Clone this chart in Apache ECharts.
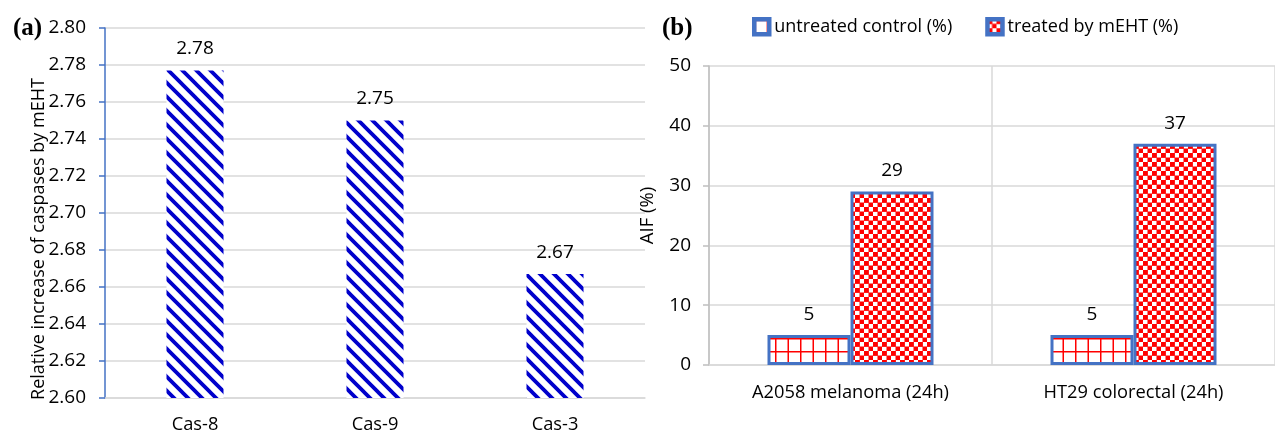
<!DOCTYPE html>
<html>
<head>
<meta charset="utf-8">
<script src="https://cdn.jsdelivr.net/npm/echarts@6/dist/echarts.min.js"></script>
<style>html,body{margin:0;padding:0;background:#fff;}#c{width:1275px;height:434px;}</style>
</head>
<body>
<div id="c"></div>
<script>
// ---- data ----
const casCategories = ['Cas-8', 'Cas-9', 'Cas-3'];
const casValues = [2.777, 2.75, 2.667];
const casTicks = { min: 2.6, max: 2.8, interval: 0.02 };
const casAxisName = 'Relative increase of caspases by mEHT';

const aifCategories = ['A2058 melanoma (24h)', 'HT29 colorectal (24h)'];
const untreatedValues = [5, 5];
const treatedValues = [29, 37];
const aifTicks = { min: 0, max: 50, interval: 10 };
const seriesNames = ['untreated control (%)', 'treated by mEHT (%)'];

// ---- patterns ----
function stripePattern() {
  const s = 14, c = document.createElement('canvas');
  c.width = s; c.height = s;
  const g = c.getContext('2d');
  g.fillStyle = '#fff'; g.fillRect(0, 0, s, s);
  g.strokeStyle = '#0000CC'; g.lineWidth = 3.8;
  g.beginPath();
  for (const k of [-1, 0, 1]) {
    g.moveTo(-4 + k * s, -4); g.lineTo(s + 4 + k * s, s + 4);
  }
  g.stroke();
  return c;
}
function gridPattern() {
  const c = document.createElement('canvas');
  c.width = 25; c.height = 26;
  const g = c.getContext('2d');
  g.fillStyle = '#fff'; g.fillRect(0, 0, 25, 26);
  g.fillStyle = '#FF0000';
  g.fillRect(0, 0, 25, 1.5); g.fillRect(0, 13, 25, 1.5);
  g.fillRect(0, 0, 1.5, 26); g.fillRect(12.5, 0, 1.5, 26);
  return c;
}
function checkerPattern() {
  const s = 4.5, c = document.createElement('canvas');
  c.width = 2 * s; c.height = 2 * s;
  const g = c.getContext('2d');
  g.fillStyle = '#fff'; g.fillRect(0, 0, 2 * s, 2 * s);
  g.fillStyle = '#FF0000';
  g.fillRect(0, 0, s + 0.4, s + 0.4); g.fillRect(s, s, s + 0.4, s + 0.4);
  return c;
}

const FONT = 'Open Sans';
const chart = echarts.init(document.getElementById('c'), null, { renderer: 'canvas' });
chart.setOption({
  animation: false,
  backgroundColor: '#fff',
  textStyle: { fontFamily: FONT },
  title: [
    { text: '(a)', left: 8, top: 11, textStyle: { fontFamily: 'Liberation Serif', fontWeight: 'bold', fontSize: 25, color: '#000' } },
    { text: '(b)', left: 657, top: 11, textStyle: { fontFamily: 'Liberation Serif', fontWeight: 'bold', fontSize: 25, color: '#000' } }
  ],
  graphic: [
    {
      type: 'text', x: 39, y: 239, rotation: Math.PI / 2,
      style: { text: casAxisName, fontSize: 18, fontFamily: FONT, fill: '#000', align: 'center', verticalAlign: 'middle' }
    }
  ],
  legend: {
    data: seriesNames,
    left: 747, top: 12,
    icon: 'rect', itemWidth: 15, itemHeight: 15, itemGap: 33,
    itemStyle: { borderWidth: 4.5 },
    textStyle: { fontFamily: FONT, fontSize: 18, color: '#000' }
  },
  grid: [
    { left: 105, top: 28, width: 540, height: 370 },
    { left: 709, top: 66, width: 576, height: 299 }
  ],
  xAxis: [
    {
      gridIndex: 0, type: 'category', data: casCategories,
      axisLine: { lineStyle: { color: '#D9D9D9', width: 1.5 } },
      axisTick: { show: false },
      axisLabel: { fontSize: 18.3, color: '#000', margin: 18, fontFamily: FONT }
    },
    {
      gridIndex: 1, type: 'category', data: aifCategories,
      axisLine: { lineStyle: { color: '#D9D9D9', width: 1.5 } },
      axisTick: { show: false },
      splitLine: { show: true, lineStyle: { color: '#D9D9D9', width: 1.5 } },
      axisLabel: { fontSize: 18.3, color: '#000', margin: 19, fontFamily: FONT }
    }
  ],
  yAxis: [
    {
      gridIndex: 0, type: 'value', min: casTicks.min, max: casTicks.max, interval: casTicks.interval,
      axisLine: { show: true, lineStyle: { color: '#4472C4', width: 1.5 } },
      axisTick: { show: true, length: 6, lineStyle: { color: '#4472C4', width: 1.5 } },
      splitLine: { lineStyle: { color: '#D9D9D9', width: 1.5 } },
      axisLabel: { fontSize: 19, color: '#000', margin: 19, fontFamily: FONT, formatter: v => v.toFixed(2) }
    },
    {
      gridIndex: 1, type: 'value', min: aifTicks.min, max: aifTicks.max, interval: aifTicks.interval,
      name: 'AIF (%)', nameLocation: 'middle', nameGap: 52,
      nameTextStyle: { fontSize: 18.5, color: '#000', fontFamily: FONT },
      axisLine: { show: true, lineStyle: { color: '#BFBFBF', width: 1.5 } },
      axisTick: { show: true, length: 6, lineStyle: { color: '#BFBFBF', width: 1.5 } },
      splitLine: { lineStyle: { color: '#D9D9D9', width: 1.5 } },
      axisLabel: { fontSize: 19, color: '#000', margin: 18, fontFamily: FONT }
    }
  ],
  series: [
    {
      type: 'bar', xAxisIndex: 0, yAxisIndex: 0, data: casValues, barWidth: 57,
      itemStyle: { color: { image: stripePattern(), repeat: 'repeat' } },
      label: { show: true, position: 'top', distance: 12, fontSize: 19, color: '#000', fontFamily: FONT, formatter: p => p.value.toFixed(2) }
    },
    {
      name: seriesNames[0], type: 'bar', xAxisIndex: 1, yAxisIndex: 1, data: untreatedValues,
      barWidth: 83, barGap: '0%',
      itemStyle: { color: { image: gridPattern(), repeat: 'repeat' }, borderColor: '#4472C4', borderWidth: 3 },
      label: { show: true, position: 'top', distance: 11, fontSize: 19, color: '#000', fontFamily: FONT }
    },
    {
      name: seriesNames[1], type: 'bar', xAxisIndex: 1, yAxisIndex: 1, data: treatedValues,
      barWidth: 83, barGap: '0%',
      itemStyle: { color: { image: checkerPattern(), repeat: 'repeat' }, borderColor: '#4472C4', borderWidth: 3 },
      label: { show: true, position: 'top', distance: 11, fontSize: 19, color: '#000', fontFamily: FONT }
    }
  ]
});
</script>
</body>
</html>
